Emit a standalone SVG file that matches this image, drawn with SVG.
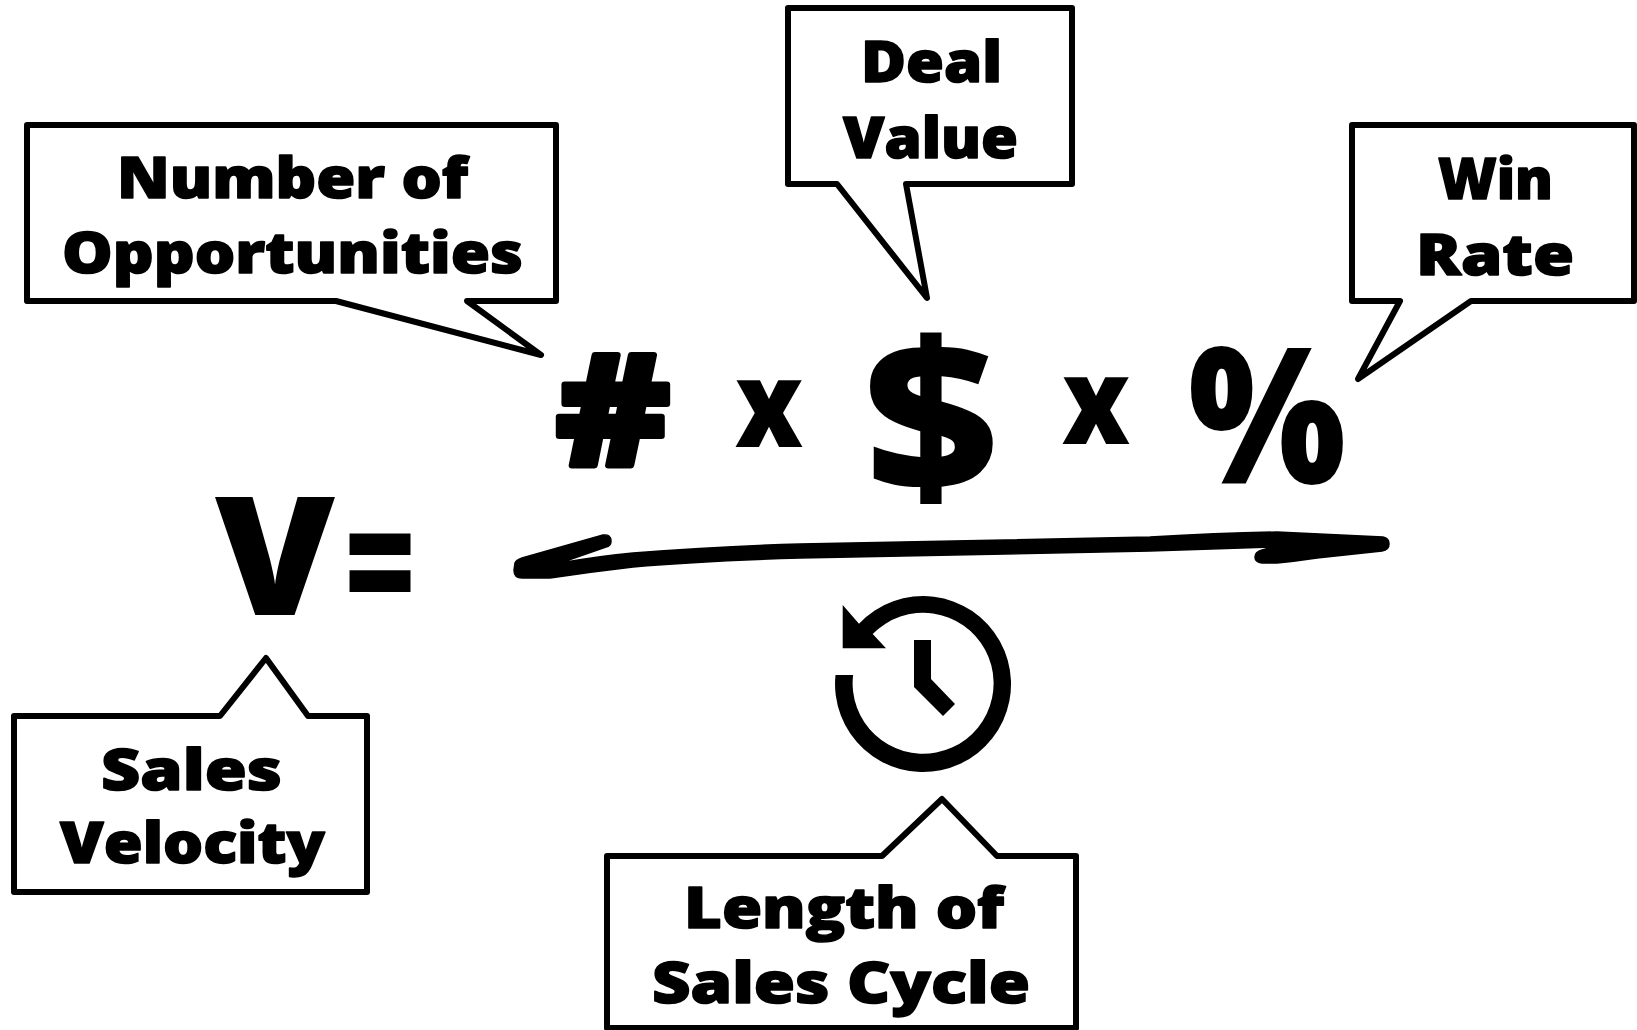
<svg xmlns="http://www.w3.org/2000/svg" width="1637" height="1030" viewBox="0 0 1637 1030">
<style>
.box{fill:#fff;stroke:#000;stroke-width:6;stroke-linejoin:round}
.t{font-family:"Open Sans","Noto Sans","Liberation Sans",sans-serif;font-weight:800;font-size:56px;fill:#000;stroke:#000;stroke-width:1.5;stroke-linejoin:round}
.big{font-family:"Open Sans","Noto Sans","Liberation Sans",sans-serif;font-weight:800;fill:#000}
.ink{fill:#000}
.bar{fill:#000;stroke:#000;stroke-width:1.5;stroke-linejoin:round}
</style>
<rect width="1637" height="1030" fill="#fff"/>
<g id="number-of-opportunities">
<path class="box" d="M27,125H556V301H467L541,355L336,301H27Z"/>
<text class="t" x="117" y="198" textLength="351" lengthAdjust="spacingAndGlyphs">Number of</text>
<text class="t" x="62" y="273" textLength="461" lengthAdjust="spacingAndGlyphs">Opportunities</text>
</g>
<g id="deal-value">
<path class="box" d="M788,8H1072V184H906L927,298L837,184H788Z"/>
<text class="t" x="861" y="82" textLength="141" lengthAdjust="spacingAndGlyphs">Deal</text>
<text class="t" x="843" y="158" textLength="175" lengthAdjust="spacingAndGlyphs">Value</text>
</g>
<g id="win-rate">
<path class="box" d="M1352,125H1634V301H1471L1358,379L1400,301H1352Z"/>
<text class="t" x="1438" y="199" textLength="115" lengthAdjust="spacingAndGlyphs">Win</text>
<text class="t" x="1416" y="275" textLength="158" lengthAdjust="spacingAndGlyphs">Rate</text>
</g>
<g id="sales-velocity">
<path class="box" d="M14,716H220L266,658L308,716H367V892H14Z"/>
<text class="t" x="101" y="790" textLength="181" lengthAdjust="spacingAndGlyphs">Sales</text>
<text class="t" x="60" y="863" textLength="265" lengthAdjust="spacingAndGlyphs">Velocity</text>
</g>
<g id="length-of-sales-cycle">
<path class="box" d="M607,856H882L942,799L997,856H1076V1028H607Z"/>
<text class="t" x="684" y="928" textLength="320" lengthAdjust="spacingAndGlyphs">Length of</text>
<text class="t" x="652" y="1003" textLength="378" lengthAdjust="spacingAndGlyphs">Sales Cycle</text>
</g>
<g id="formula">
<text class="big" x="556" y="466" font-size="155" textLength="114" lengthAdjust="spacingAndGlyphs" stroke="#000" stroke-width="6" stroke-linejoin="round">#</text>
<text class="big" x="735" y="447" font-size="120" textLength="68" lengthAdjust="spacingAndGlyphs">x</text>
<text class="big" x="864" y="492" font-size="209" textLength="134" lengthAdjust="spacingAndGlyphs">$</text>
<text class="big" x="1062" y="444" font-size="120" textLength="68" lengthAdjust="spacingAndGlyphs">x</text>
<text class="big" x="1188" y="484" font-size="190" textLength="158" lengthAdjust="spacingAndGlyphs">%</text>
<text class="big" x="215" y="615" font-size="165" textLength="120" lengthAdjust="spacingAndGlyphs">V</text>
<text class="big" x="344" y="621" font-size="165" textLength="72" lengthAdjust="spacingAndGlyphs">=</text>
</g>
<g id="fraction-bar">
<path class="bar" d="M515,563Q516,560 522,558L603,535Q611,534 611,541Q611,546 606,547L560,563Q600,556 633,553Q720,546 800,544L1150,537Q1220,533 1277,532L1383,537Q1389,538 1389,544Q1389,550 1382,551L1317,558Q1290,562 1277,563L1262,563Q1255,562 1255,557Q1255,552 1262,550L1273,547L1150,551L800,558Q700,561 633,567Q590,572 550,578L522,578Q514,578 514,570Z"/>
</g>
<g id="clock">
<path class="ink" d="M835.5,675A88,88 0 1 0 859,623.7L842.7,605V648.3H886L872.7,634A70.5,70.5 0 1 1 853.1,675Z"/>
<path class="ink" d="M914,640H931V679L955,704L943,716L914,687Z"/>
</g>
</svg>
